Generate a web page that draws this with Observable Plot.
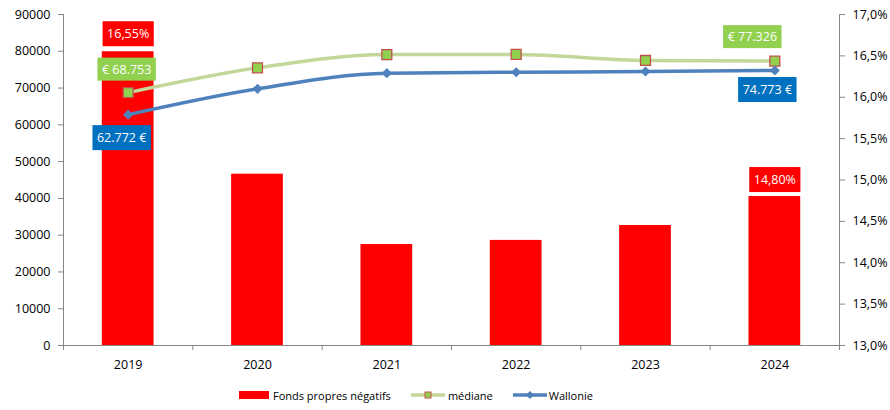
<!DOCTYPE html>
<html><head><meta charset="utf-8">
<script src="https://cdn.jsdelivr.net/npm/d3@7"></script>
<script src="https://cdn.jsdelivr.net/npm/@observablehq/plot@0.6"></script>
<style>
body{margin:0;background:#fff;font-family:"Open Sans",sans-serif}
#legend{position:relative;height:30px;font-size:11px;color:#000;display:flex;align-items:center;padding-left:239px;box-sizing:border-box}
#legend .it{display:flex;align-items:center;margin-right:20px}
</style>
</head><body><div id="chart"></div>
<div id="legend">
  <div class="it"><svg width="30" height="8"><rect width="30" height="8" fill="#FF0000"/></svg><span style="margin-left:4px">Fonds propres négatifs</span></div>
  <div class="it"><svg width="34" height="10"><line x1="0" x2="34" y1="5" y2="5" stroke="#C4D79B" stroke-width="3.5"/><rect x="14" y="2" width="6" height="6" fill="#92D050" stroke="#C0504D" stroke-width="1"/></svg><span style="margin-left:3px">médiane</span></div>
  <div class="it"><svg width="34" height="10"><line x1="0" x2="34" y1="5" y2="5" stroke="#4F81BD" stroke-width="3.5"/><path d="M17,1L21,5L17,9L13,5Z" fill="#4F81BD"/></svg><span style="margin-left:2px">Wallonie</span></div>
</div>
<script>
const years = [2019, 2020, 2021, 2022, 2023, 2024];
const fondsPropresNegatifs = [16.55, 15.07, 14.22, 14.27, 14.45, 14.80];
const mediane = [68753, 75500, 79100, 79150, 77500, 77326];
const wallonie = [62772, 69800, 74050, 74300, 74500, 74773];
const leftTicks = [0, 10000, 20000, 30000, 40000, 50000, 60000, 70000, 80000, 90000];
const rightTicks = [13, 13.5, 14, 14.5, 15, 15.5, 16, 16.5, 17];

const pctToY = p => (p - 13) / 4 * 90000;
const yToPct = v => 13 + v / 90000 * 4;
const fmtPct = p => p.toFixed(2).replace(".", ",") + "%";
const fmtThousands = v => String(Math.round(v)).replace(/\B(?=(\d{3})+(?!\d))/g, ".");

const data = years.map((year, i) => ({year, fpn: fondsPropresNegatifs[i], med: mediane[i], wal: wallonie[i]}));
const first = data[0], last = data[data.length - 1];

function label(d, y, text, dx, dy, cls) {
  return Plot.text([d], {x: "year", y, text: () => text, dx, dy, fill: "#fff", fontSize: 12.5, className: cls});
}

const plot = Plot.plot({
  width: 890, height: 380,
  marginTop: 14, marginBottom: 35, marginLeft: 63, marginRight: 51,
  x: {type: "linear", domain: [2018.5, 2024.5]},
  y: {domain: [0, 90000]},
  style: {fontFamily: "Open Sans, sans-serif", fontSize: "12.5px", color: "#000", background: "#fff"},
  marks: [
    Plot.rectY(data, {x1: d => d.year - 0.2, x2: d => d.year + 0.2, y1: 0, y2: d => pctToY(d.fpn), fill: "#FF0000"}),
    Plot.ruleX([2018.5, 2024.5], {stroke: "#868686", strokeWidth: 1}),
    Plot.ruleY([0], {stroke: "#868686", strokeWidth: 1}),
    Plot.axisY(leftTicks, {anchor: "left", tickSize: 5, tickPadding: 8, tickFormat: d => String(d), label: null, stroke: "#868686"}),
    Plot.axisY(rightTicks.map(pctToY), {anchor: "right", tickSize: 5, tickPadding: 8, tickFormat: v => yToPct(v).toFixed(1).replace(".", ",") + "%", label: null, stroke: "#868686"}),
    Plot.axisX(years, {tickSize: 0, tickPadding: 15, tickFormat: d => String(d), label: null}),
    Plot.axisX([2018.5, 2019.5, 2020.5, 2021.5, 2022.5, 2023.5, 2024.5], {tickSize: 5, tickFormat: () => "", label: null, stroke: "#868686"}),
    Plot.line(data, {x: "year", y: "med", stroke: "#C4D79B", strokeWidth: 3.5, curve: "monotone-x"}),
    Plot.dot(data, {x: "year", y: "med", symbol: "square", r: 5.6, fill: "#92D050", stroke: "#C0504D", strokeWidth: 1.3}),
    Plot.line(data, {x: "year", y: "wal", stroke: "#4F81BD", strokeWidth: 3.5, curve: "monotone-x"}),
    Plot.dot(data, {x: "year", y: "wal", symbol: "diamond2", r: 4.6, fill: "#4F81BD", stroke: "none"}),
    label(first, d => pctToY(d.fpn), fmtPct(first.fpn), 0, -17.5, "lbl-red"),
    label(last, d => pctToY(d.fpn), fmtPct(last.fpn), 0, -16.5, "lbl-red"),
    label(first, "med", "€ " + fmtThousands(first.med), -1.5, -23, "lbl-green"),
    label(last, "med", "€ " + fmtThousands(last.med), -22.5, -24, "lbl-green"),
    label(first, "wal", fmtThousands(first.wal) + " €", -6.5, 23.5, "lbl-blue"),
    label(last, "wal", fmtThousands(last.wal) + " €", -7.5, 19.5, "lbl-blue")
  ]
});
document.getElementById("chart").appendChild(plot);

const bg = {"lbl-red": ["#FF0000", 25], "lbl-green": ["#92D050", 23], "lbl-blue": ["#0070C0", 25]};
for (const cls of Object.keys(bg)) {
  plot.querySelectorAll("g." + cls + " text").forEach(t => {
    const b = t.getBBox();
    const padX = 4.5, h = bg[cls][1];
    const r = document.createElementNS("http://www.w3.org/2000/svg", "rect");
    r.setAttribute("x", b.x - padX);
    r.setAttribute("y", b.y + b.height / 2 - h / 2);
    r.setAttribute("width", b.width + 2 * padX);
    r.setAttribute("height", h);
    r.setAttribute("fill", bg[cls][0]);
    if (t.getAttribute("transform")) r.setAttribute("transform", t.getAttribute("transform"));
    t.parentNode.insertBefore(r, t);
  });
}
</script>
</body></html>
